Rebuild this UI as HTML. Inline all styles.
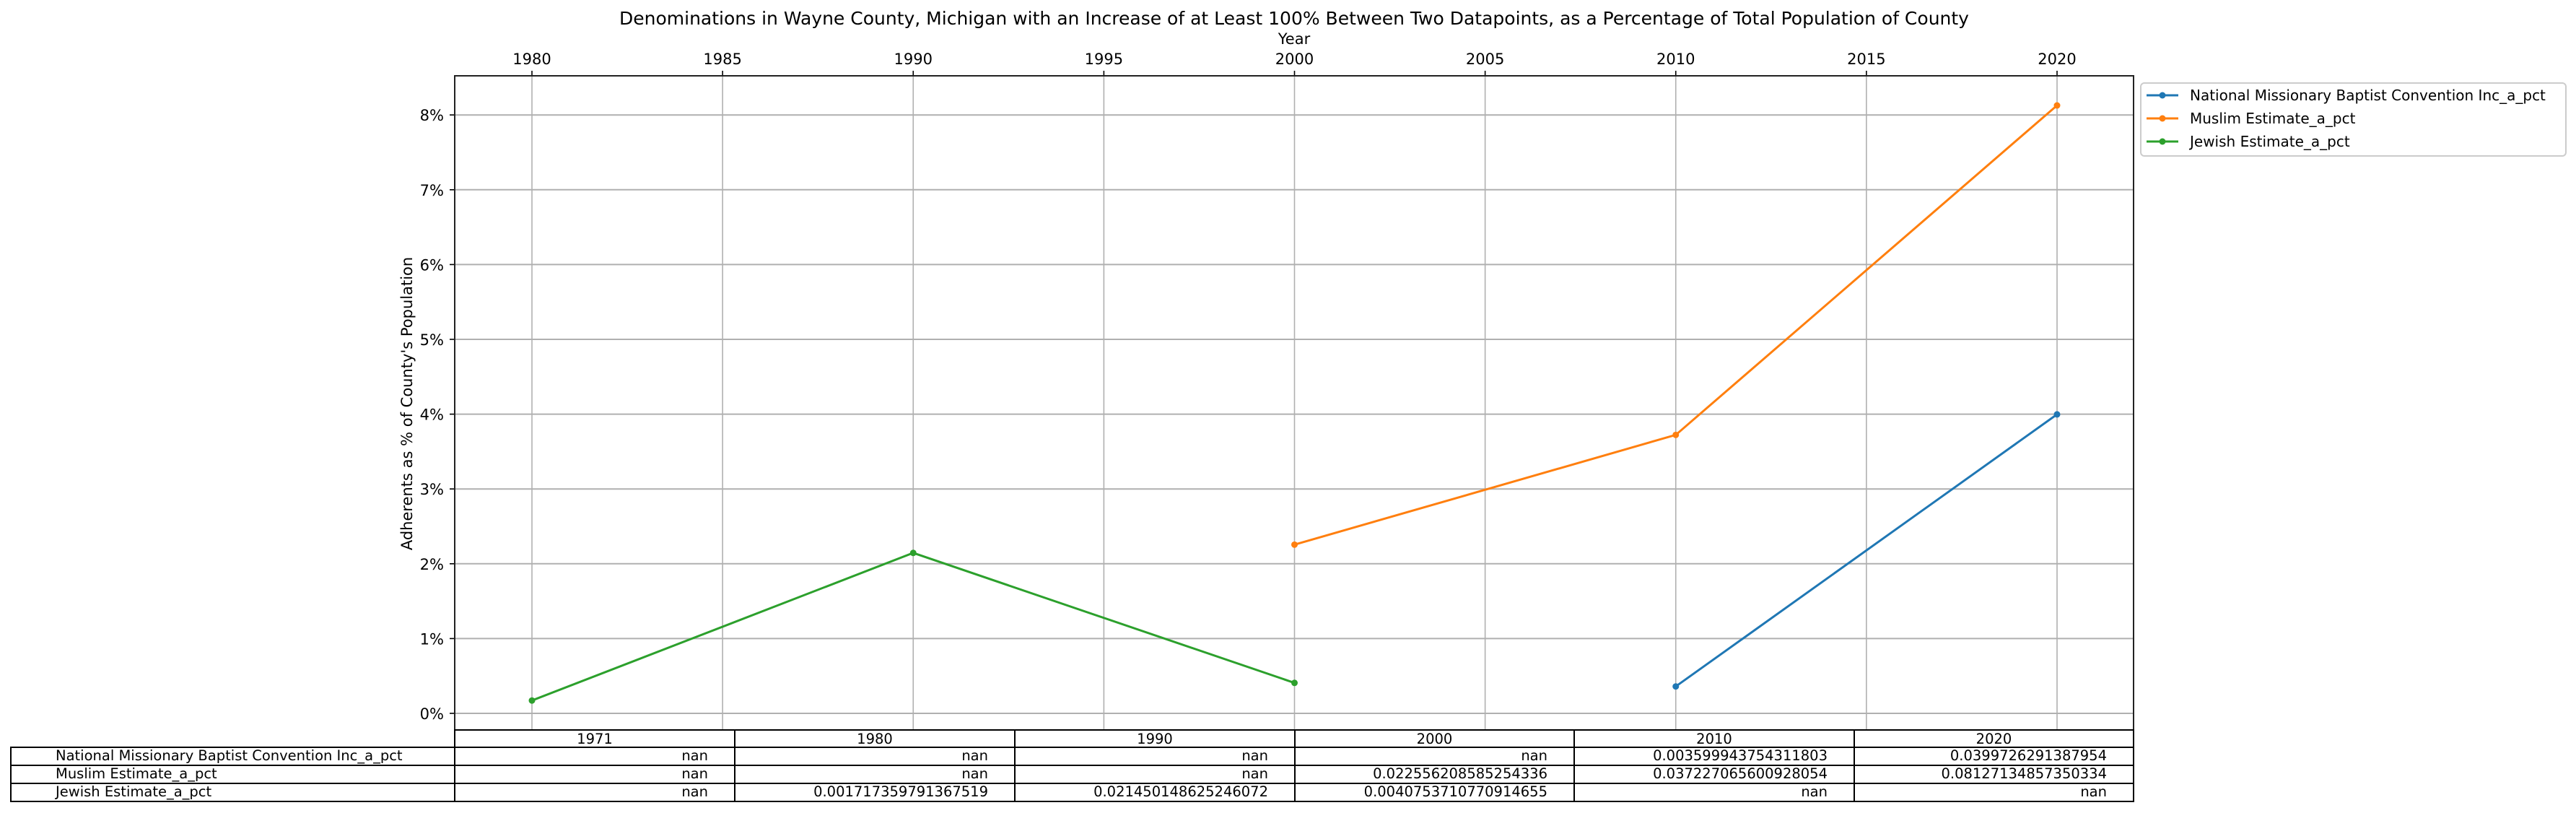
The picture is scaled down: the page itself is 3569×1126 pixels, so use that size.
<!DOCTYPE html>
<html><head><meta charset="utf-8"><style>
html,body{margin:0;padding:0;background:#fff;}
svg{display:block;font-family:"DejaVu Sans","Liberation Sans",sans-serif;}
</style></head><body>
<svg id="chart" width="3569" height="1126" viewBox="0 0 3569 1126" xmlns="http://www.w3.org/2000/svg">
<text x="1793" y="34" font-size="25" text-anchor="middle">Denominations in Wayne County, Michigan with an Increase of at Least 100% Between Two Datapoints, as a Percentage of Total Population of County</text>
<text x="1793" y="61" font-size="21" text-anchor="middle">Year</text>
<text transform="translate(571,559) rotate(-90)" font-size="21" text-anchor="middle">Adherents as % of County's Population</text>
<g id="grid"></g><g id="series"></g><g id="axes"></g><g id="legend"></g><g id="table"></g>
</svg>
<script>
const seriesNames = ["National Missionary Baptist Convention Inc_a_pct","Muslim Estimate_a_pct","Jewish Estimate_a_pct"];
const nmbcYears = [2010, 2020];
const nmbcValues = [0.3599943754311803, 3.99726291387954];
const muslimYears = [2000, 2010, 2020];
const muslimValues = [2.2556208585254336, 3.7227065600928054, 8.127134857350334];
const jewishYears = [1980, 1990, 2000];
const jewishValues = [0.1717359791367519, 2.145014862524607, 0.40753710770914655];
const xTicks = [1980,1985,1990,1995,2000,2005,2010,2015,2020];
const yTicks = [0,1,2,3,4,5,6,7,8];
const tableCols = ["1971","1980","1990","2000","2010","2020"];
const tableNmbc = ["nan","nan","nan","nan","0.003599943754311803","0.0399726291387954"];
const tableMuslim = ["nan","nan","nan","0.022556208585254336","0.037227065600928054","0.08127134857350334"];
const tableJewish = ["nan","0.001717359791367519","0.021450148625246072","0.0040753710770914655","nan","nan"];
const colors = ["#1f77b4","#ff7f0e","#2ca02c"];

const L=630,R=2956,T=105,B=1011;
const xS=y=>737+(y-1980)*(2850-737)/40;
const yS=v=>988-v*103.6;
const NS="http://www.w3.org/2000/svg";
function mk(parent,tag,attrs){const e=document.createElementNS(NS,tag);for(const k in attrs)e.setAttribute(k,attrs[k]);document.getElementById(parent).appendChild(e);return e;}

xTicks.forEach(t=>{
  const g=mk('grid','line',{x1:xS(t),x2:xS(t),y1:T,y2:B,stroke:'#b0b0b0','stroke-width':1.6});
  
  
  const tk=mk('axes','line',{x1:xS(t),x2:xS(t),y1:T-7,y2:T,stroke:'#000','stroke-width':1.6});
  
  
  const tl=mk('axes','text',{x:xS(t),y:T-16,'font-size':21,'text-anchor':'middle'});
  tl.textContent=t;
  
  
});
yTicks.forEach(t=>{
  const g=mk('grid','line',{x1:L,x2:R,y1:yS(t),y2:yS(t),stroke:'#b0b0b0','stroke-width':2});
  
  
  const tk=mk('axes','line',{x1:L-7,x2:L,y1:yS(t),y2:yS(t),stroke:'#000','stroke-width':1.6});
  
  
  const tl=mk('axes','text',{x:615,y:yS(t)+8,'font-size':21,'text-anchor':'end'});
  tl.textContent=t+'%';
  
  
});
const frame=mk('axes','rect',{x:L,y:T,width:R-L,height:B-T,fill:'none',stroke:'#222','stroke-width':2});



[[nmbcYears,nmbcValues],[muslimYears,muslimValues],[jewishYears,jewishValues]].forEach((s,i)=>{
  const pts=s[0].map((y,j)=>xS(y)+','+yS(s[1][j])).join(' ');
  const pl=mk('series','polyline',{points:pts,fill:'none',stroke:colors[i],'stroke-width':3});
  
  
  s[0].forEach((y,j)=>{
    const c=mk('series','circle',{cx:xS(y),cy:yS(s[1][j]),r:4.5,fill:colors[i]});
    
    
  });
});

const lb=mk('legend','rect',{x:2966,y:115,width:589,height:101,rx:5,fill:'#fff',stroke:'#ccc','stroke-width':2});


seriesNames.forEach((n,i)=>{
  const y=132+i*32;
  const l=mk('legend','line',{x1:2974,x2:3018,y1:y,y2:y,stroke:colors[i],'stroke-width':3});
  
  
  const c=mk('legend','circle',{cx:2996,cy:y,r:4.5,fill:colors[i]});
  
  
  const t=mk('legend','text',{x:3034,y:y+7,'font-size':20});
  t.textContent=n;
  
  
});

const colX=[630,1018,1406,1794,2181,2569,2956];
const rowY=[1011,1035,1060,1085,1110];
for(let c=0;c<6;c++){
  const r=mk('table','rect',{x:colX[c],y:rowY[0],width:colX[c+1]-colX[c],height:rowY[1]-rowY[0],fill:'#fff',stroke:'#000','stroke-width':2});
  
  
  const t=mk('table','text',{x:(colX[c]+colX[c+1])/2,y:rowY[0]+19,'font-size':19.5,'text-anchor':'middle'});
  t.textContent=tableCols[c];
  
  
}
[tableNmbc,tableMuslim,tableJewish].forEach((row,i)=>{
  const y0=rowY[i+1],y1=rowY[i+2];
  const r=mk('table','rect',{x:15,y:y0,width:615,height:y1-y0,fill:'#fff',stroke:'#000','stroke-width':2});
  
  
  const t=mk('table','text',{x:77,y:y0+18,'font-size':19.5});
  t.textContent=seriesNames[i];
  
  
  row.forEach((v,c)=>{
    const cr=mk('table','rect',{x:colX[c],y:y0,width:colX[c+1]-colX[c],height:y1-y0,fill:'#fff',stroke:'#000','stroke-width':2});
    
    
    const ct=mk('table','text',{x:colX[c+1]-37,y:y0+18,'font-size':19.5,'text-anchor':'end'});
    ct.textContent=v;
    
    
  });
});
</script>
</body></html>
